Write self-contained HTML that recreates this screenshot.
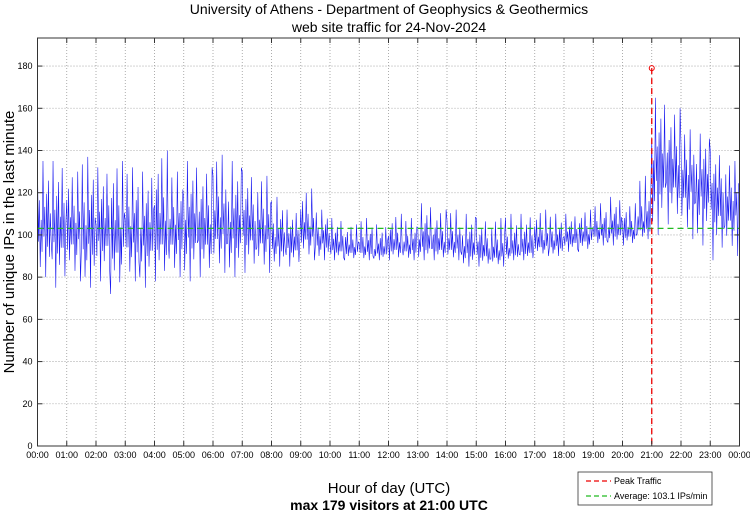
<!DOCTYPE html>
<html><head><meta charset="utf-8"><style>
body{margin:0;background:#fff;}
svg{display:block;font-family:"Liberation Sans",sans-serif;}
</style></head><body>
<svg id="chart" width="750" height="511">
<text x="389" y="14" text-anchor="middle" font-size="14">University of Athens - Department of Geophysics &amp; Geothermics</text>
<text x="389" y="32" text-anchor="middle" font-size="14">web site traffic for 24-Nov-2024</text>
<text transform="translate(14,242) rotate(-90)" text-anchor="middle" font-size="15">Number of unique IPs in the last minute</text>
<text x="389" y="493" text-anchor="middle" font-size="15">Hour of day (UTC)</text>
<text x="389" y="510" text-anchor="middle" font-size="14" font-weight="bold">max 179 visitors at 21:00 UTC</text>
<g id="grid"></g><g id="series"></g><g id="overlay"></g><g id="axes"></g>
<g>
<rect x="578" y="472" width="134" height="33" fill="#fff" stroke="#333" stroke-width="0.8"/>
<line x1="586" y1="481" x2="611" y2="481" stroke="#e00" stroke-dasharray="5,3" stroke-width="1.2"/>
<text x="614" y="484" font-size="9">Peak Traffic</text>
<line x1="586" y1="496" x2="611" y2="496" stroke="#2b2" stroke-dasharray="5,3" stroke-width="1.2"/>
<text x="614" y="499" font-size="9">Average: 103.1 IPs/min</text>
</g>
</svg>
<script>
const hourLabels=["00:00","01:00","02:00","03:00","04:00","05:00","06:00","07:00","08:00","09:00","10:00","11:00","12:00","13:00","14:00","15:00","16:00","17:00","18:00","19:00","20:00","21:00","22:00","23:00","00:00"];
const yTicks=[0,20,40,60,80,100,120,140,160,180];
const binHigh=[135,135,130,137,132,135,132,130,140,130,135,132,138,135,130,128,118,112,122,112,108,105,108,105,110,108,115,112,112,110,108,108,110,110,112,110,110,112,115,118,115,128,165,160,150,148,140,135];
const binLow=[80,75,78,75,78,72,78,75,78,80,78,80,82,80,82,82,85,85,88,88,88,88,88,88,88,88,88,88,88,85,85,85,88,88,90,90,92,92,95,95,95,98,100,105,98,95,88,90];
const binMid=[104,102,103,101,102,100,101,100,103,102,104,102,105,103,104,102,97,96,102,98,94,93,93,92,95,94,96,95,95,93,92,91,92,93,96,96,98,99,101,102,101,104,132,130,126,124,118,114];
const peakHour=21, peakValue=179, averageValue=103.1;
const L=37.5,R=739.5,T=38,B=446,YMAX=193.3;
const xs=h=>L+(R-L)*h/24, ys=v=>B-(B-T)*v/YMAX;
const NS="http://www.w3.org/2000/svg";
function mk(t,a,p){const e=document.createElementNS(NS,t);for(const k in a)e.setAttribute(k,a[k]);p.appendChild(e);return e;}
const grid=document.getElementById('grid'),axes=document.getElementById('axes'),ser=document.getElementById('series'),ov=document.getElementById('overlay');
hourLabels.forEach((lab,i)=>{const x=xs(i);
 if(i>0&&i<24){const g=mk('line',{x1:x,y1:T,x2:x,y2:B,stroke:'#999','stroke-dasharray':'1,2','stroke-width':0.8},grid);
 
 }
 mk('line',{x1:x,y1:B,x2:x,y2:B-5,stroke:'#333'},axes);mk('line',{x1:x,y1:T,x2:x,y2:T+5,stroke:'#333'},axes);
 const t=mk('text',{x:x,y:458,'text-anchor':'middle','font-size':9},axes);t.textContent=lab;
 
 });
yTicks.forEach(v=>{const y=ys(v);
 if(v>0){const g=mk('line',{x1:L,y1:y,x2:R,y2:y,stroke:'#999','stroke-dasharray':'1,2','stroke-width':0.8},grid);
 
 }
 mk('line',{x1:L,y1:y,x2:L+5,y2:y,stroke:'#333'},axes);mk('line',{x1:R,y1:y,x2:R-5,y2:y,stroke:'#333'},axes);
 const t=mk('text',{x:L-5,y:y+3,'text-anchor':'end','font-size':9},axes);t.textContent=v;
 
 });
const fr=mk('rect',{x:L,y:T,width:R-L,height:B-T,fill:'none',stroke:'#333','stroke-width':1},axes);


const pattern=[0.9,-0.3,0.4,-0.8,0.1,-0.5,1,-0.2,0.3,-1,0.5,-0.4,0.7,-0.6,0.2,-0.3];
let pts=[];const n=binHigh.length,per=pattern.length;
for(let i=0;i<n;i++){for(let k=0;k<per;k++){const f=pattern[(k+i*5)%per];const v=f>=0?binMid[i]+f*(binHigh[i]-binMid[i]):binMid[i]+f*(binMid[i]-binLow[i]);
 pts.push(xs((i+k/per)*24/n).toFixed(2)+','+ys(v).toFixed(2));}}
const pl=mk('polyline',{points:pts.join(' '),fill:'none',stroke:'#1a1af0','stroke-width':0.6},ser);


const av=mk('line',{x1:L,y1:ys(averageValue),x2:R,y2:ys(averageValue),stroke:'#2b2','stroke-width':1.3,'stroke-dasharray':'6,4'},ov);


const pk=mk('line',{x1:xs(peakHour),y1:ys(peakValue),x2:xs(peakHour),y2:B,stroke:'#e00','stroke-width':1.3,'stroke-dasharray':'6,4'},ov);


const pc=mk('circle',{cx:xs(peakHour),cy:ys(peakValue),r:2.5,fill:'none',stroke:'#e00','stroke-width':1},ov);


</script>
</body></html>
